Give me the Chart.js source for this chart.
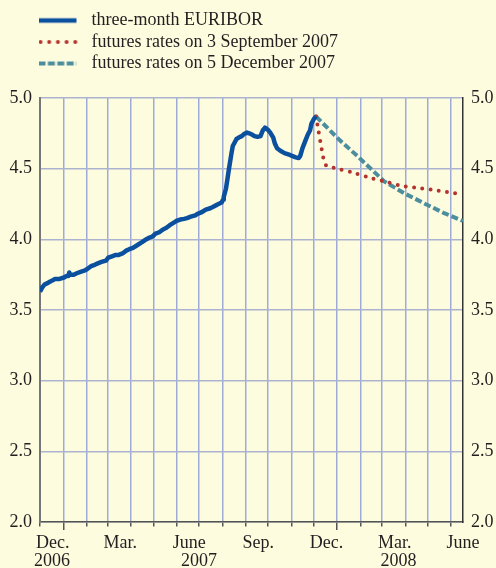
<!DOCTYPE html>
<html><head><meta charset="utf-8">
<script src="https://cdn.jsdelivr.net/npm/chart.js@4.4.1/dist/chart.umd.min.js"></script>
<style>
html,body{margin:0;padding:0;background:#fefcdf;}
#wrap{width:496px;height:568px;position:relative;}
</style></head><body>
<div id="wrap"><canvas id="c"></canvas></div>
<script>
const seriesNames = ['three-month EURIBOR', 'futures rates on 3 September 2007', 'futures rates on 5 December 2007'];

const euriborDates = [
  '2006-12-01','2006-12-04','2006-12-07','2006-12-11','2006-12-14','2006-12-18','2006-12-21','2006-12-27',
  '2007-01-02','2007-01-05','2007-01-08','2007-01-09','2007-01-10','2007-01-15','2007-01-19','2007-01-24','2007-01-30',
  '2007-02-02','2007-02-07','2007-02-12','2007-02-16','2007-02-21','2007-02-27',
  '2007-03-02','2007-03-07','2007-03-12','2007-03-16','2007-03-21','2007-03-26','2007-03-30',
  '2007-04-04','2007-04-10','2007-04-16','2007-04-20','2007-04-25','2007-04-30',
  '2007-05-04','2007-05-09','2007-05-14','2007-05-18','2007-05-23','2007-05-29',
  '2007-06-01','2007-06-06','2007-06-11','2007-06-15','2007-06-20','2007-06-26','2007-06-29',
  '2007-07-04','2007-07-10','2007-07-16','2007-07-20','2007-07-25','2007-07-31',
  '2007-08-02','2007-08-03','2007-08-06','2007-08-08','2007-08-10','2007-08-13','2007-08-15','2007-08-17',
  '2007-08-20','2007-08-23','2007-08-27','2007-08-30',
  '2007-09-03','2007-09-06','2007-09-10','2007-09-13','2007-09-17','2007-09-21','2007-09-24','2007-09-27',
  '2007-10-01','2007-10-04','2007-10-08','2007-10-10','2007-10-13','2007-10-18','2007-10-23','2007-10-29',
  '2007-11-02','2007-11-07','2007-11-11','2007-11-13','2007-11-16','2007-11-20','2007-11-23','2007-11-26','2007-11-28',
  '2007-12-01','2007-12-04'
];
const euriborValues = [
  3.63,3.66,3.68,3.69,3.70,3.71,3.72,3.72,
  3.73,3.74,3.74,3.765,3.75,3.75,3.76,3.77,3.78,
  3.79,3.81,3.82,3.83,3.84,3.85,
  3.87,3.88,3.89,3.89,3.90,3.92,3.93,
  3.94,3.96,3.98,3.995,4.01,4.02,
  4.04,4.05,4.07,4.08,4.10,4.12,
  4.13,4.14,4.145,4.15,4.16,4.17,4.18,
  4.19,4.21,4.22,4.23,4.245,4.26,
  4.28,4.30,4.36,4.43,4.50,4.60,4.66,4.68,
  4.71,4.72,4.73,4.745,
  4.755,4.75,4.74,4.73,4.725,4.73,4.77,4.79,
  4.775,4.755,4.72,4.68,4.645,4.625,4.61,4.60,
  4.59,4.58,4.575,4.59,4.645,4.70,4.74,4.77,4.82,
  4.85,4.87
];

const futuresSepDates = ['2007-12-04','2007-12-14','2007-12-18','2007-12-29','2008-01-20','2008-02-11','2008-03-04','2008-03-26','2008-04-17','2008-05-09','2008-06-01','2008-06-17'];
const futuresSepValues = [4.87,4.57,4.52,4.505,4.475,4.44,4.41,4.38,4.363,4.35,4.33,4.32];

const futuresDecDates = ['2007-12-04','2008-01-02','2008-01-29','2008-02-15','2008-03-04','2008-03-31','2008-04-26','2008-05-23','2008-06-17'];
const futuresDecValues = [4.87,4.715,4.585,4.50,4.41,4.325,4.255,4.185,4.13];

const monthLabels = ['Dec.','Mar.','June','Sep.','Dec.','Mar.','June'];
const monthLabelDates = ['2006-12-18','2007-03-18','2007-06-18','2007-09-18','2007-12-18','2008-03-18','2008-06-17'];
const yearLabels = ['2006','2007','2008'];
const yearLabelDates = ['2006-12-17','2007-07-01','2008-03-23'];

const axisStart = '2006-12-01';
const axisEnd = '2008-06-17';
const yMin = 2.0, yMax = 5.0, yStep = 0.5;

const DAY = 86400000;
function toUTC(s) { const p = s.split('-').map(Number); return Date.UTC(p[0], p[1] - 1, p[2]); }
const origin = toUTC(axisStart);
function dayOf(s) { return (toUTC(s) - origin) / DAY; }
function pts(dates, vals) { return dates.map((d, i) => ({ x: dayOf(d), y: vals[i] })); }

// month-start gridline positions
const monthStarts = [];
const yearStarts = new Set();
for (let i = 0; ; i++) {
  const t = Date.UTC(2006, 11 + i, 1);
  const d = (t - origin) / DAY;
  if (d > dayOf(axisEnd)) break;
  monthStarts.push(d);
  if (new Date(t).getUTCMonth() === 0) yearStarts.add(d);
}

const FONT = "'Liberation Serif', 'Times New Roman', serif";
const TEXT = '#231f20';
Chart.defaults.font.family = FONT;
Chart.defaults.font.size = 18;
Chart.defaults.color = TEXT;

const BLUE = '#0b4f9f', RED = '#b3342e', TEAL = '#4d8e9e';

// legend line samples (drawn in a 44px box; the stroke spans the first 38px)
function legendSample(color, width, dash, cap, x0) {
  const c = document.createElement('canvas');
  c.width = 44; c.height = 8;
  const g = c.getContext('2d');
  g.strokeStyle = color; g.lineWidth = width; g.lineCap = cap; g.setLineDash(dash);
  g.beginPath(); g.moveTo(x0, 4); g.lineTo(38, 4); g.stroke();
  return c;
}
const legendSamples = [
  legendSample(BLUE, 4.5, [], 'butt', 0),
  legendSample(RED, 4, [0, 8.7], 'round', 2),
  legendSample(TEAL, 4, [7, 2.4], 'butt', 0)
];

const legendLayout = {
  id: 'legendLayout',
  beforeLayout(chart) {
    const lg = chart.legend;
    if (lg && !lg._patched) {
      const fit = lg.fit;
      lg.fit = function () { fit.call(this); this.height = 90; };
      lg._patched = true;
    }
  },
  afterLayout(chart) { if (chart.legend) chart.legend.left = 35; }
};

const vGrid = '#9eabd9';
const hGrid = '#abb3d0';
const labelFont = { family: FONT, size: 18, lineHeight: 1 };

new Chart(document.getElementById('c'), {
  type: 'line',
  data: {
    datasets: [
      { label: seriesNames[0], data: pts(euriborDates, euriborValues), borderColor: BLUE, backgroundColor: BLUE,
        borderWidth: 4.5, pointRadius: 0, tension: 0, borderJoinStyle: 'round', xAxisID: 'x', yAxisID: 'y' },
      { label: seriesNames[1], data: pts(futuresSepDates, futuresSepValues), borderColor: RED, backgroundColor: RED,
        borderWidth: 4, borderDash: [0, 8.3], borderCapStyle: 'round', pointRadius: 0, tension: 0.2, xAxisID: 'x', yAxisID: 'y' },
      { label: seriesNames[2], data: pts(futuresDecDates, futuresDecValues), borderColor: TEAL, backgroundColor: TEAL,
        borderWidth: 4, borderDash: [7, 3], pointRadius: 0, tension: 0, xAxisID: 'x', yAxisID: 'y' }
    ]
  },
  options: {
    responsive: true,
    maintainAspectRatio: false,
    animation: false,
    layout: { padding: { top: 8, left: 0, right: 0, bottom: 0 } },
    plugins: {
      tooltip: { enabled: false },
      legend: {
        display: true, position: 'top', align: 'start',
        labels: {
          usePointStyle: true, pointStyleWidth: 44, padding: 3.5, color: TEXT, font: labelFont,
          generateLabels(chart) {
            const items = Chart.defaults.plugins.legend.labels.generateLabels(chart);
            items.forEach((it) => { it.pointStyle = legendSamples[it.datasetIndex]; });
            return items;
          }
        }
      }
    },
    scales: {
      x: {
        type: 'linear', position: 'bottom', weight: 0, min: 0, max: dayOf(axisEnd),
        afterBuildTicks(scale) { scale.ticks = monthStarts.map(v => ({ value: v })); },
        ticks: { display: false },
        grid: { color: vGrid, lineWidth: 1.5, drawTicks: true, tickLength: 8, tickColor: '#555', tickWidth: 1.5,
          tickBorderDash: ctx => (ctx.tick && yearStarts.has(ctx.tick.value)) ? [] : [4, 30] },
        border: { display: true, color: '#555', width: 1.5 },
        afterFit(scale) { scale.height = 8; }
      },
      x2: {
        type: 'linear', position: 'bottom', weight: 1, min: 0, max: dayOf(axisEnd),
        afterBuildTicks(scale) { scale.ticks = monthLabelDates.map(d => ({ value: dayOf(d) })); },
        grid: { display: false, drawTicks: false },
        border: { display: false },
        ticks: { autoSkip: false, maxRotation: 0, minRotation: 0, padding: 4, color: TEXT, font: labelFont,
          callback: (v, i) => monthLabels[i] },
        afterFit(scale) { scale.height = 22; }
      },
      x3: {
        type: 'linear', position: 'bottom', weight: 2, min: 0, max: dayOf(axisEnd),
        afterBuildTicks(scale) { scale.ticks = yearLabelDates.map(d => ({ value: dayOf(d) })); },
        grid: { display: false, drawTicks: false },
        border: { display: false },
        ticks: { autoSkip: false, maxRotation: 0, minRotation: 0, padding: 0, color: TEXT, font: labelFont,
          callback: (v, i) => yearLabels[i] },
        afterFit(scale) { scale.height = 16; }
      },
      y: {
        type: 'linear', position: 'left', min: yMin, max: yMax,
        ticks: { stepSize: yStep, padding: 8, color: TEXT, font: labelFont, callback: v => Number(v).toFixed(1) },
        grid: { color: hGrid, lineWidth: 1.5, drawTicks: false },
        border: { display: true, color: '#777', width: 2 },
        afterFit(scale) { scale.width = 40; }
      },
      y2: {
        type: 'linear', position: 'right', min: yMin, max: yMax,
        ticks: { stepSize: yStep, padding: 8, color: TEXT, font: labelFont, callback: v => Number(v).toFixed(1) },
        grid: { display: false, drawTicks: false },
        border: { display: true, color: '#333', width: 1.5 },
        afterFit(scale) { scale.width = 33; }
      }
    }
  },
  plugins: [legendLayout]
});
</script></body></html>
